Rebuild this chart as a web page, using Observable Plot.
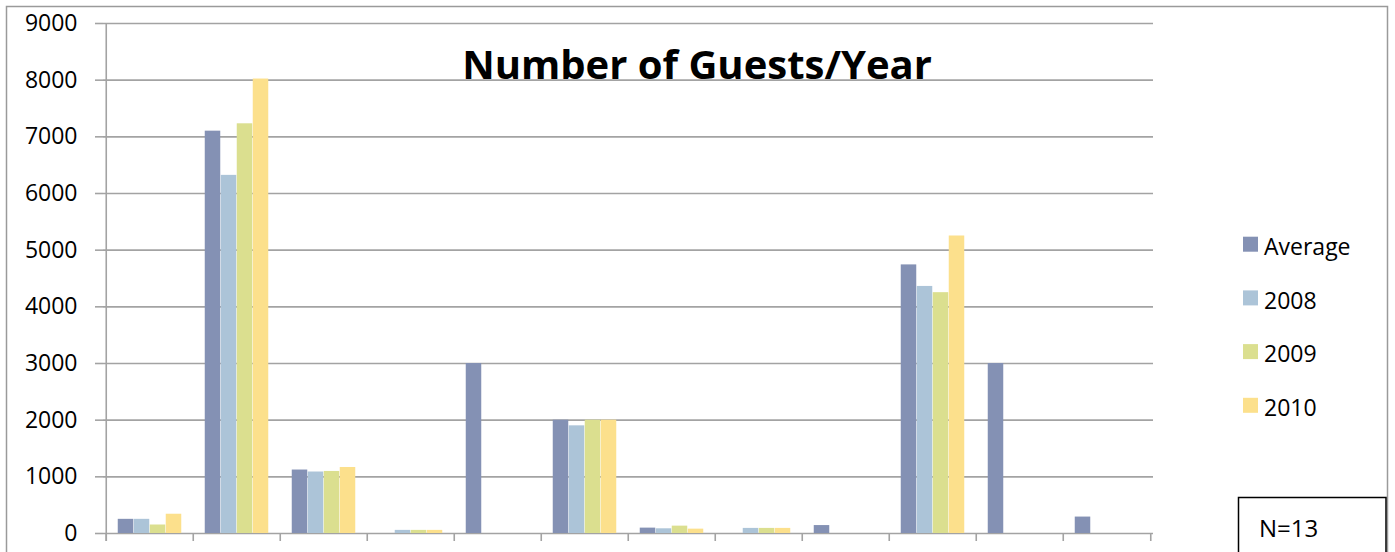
<!DOCTYPE html>
<html>
<head>
<meta charset="utf-8">
<script src="https://cdn.jsdelivr.net/npm/d3@7"></script>
<script src="https://cdn.jsdelivr.net/npm/@observablehq/plot@0.6"></script>
<style>
  html, body { margin: 0; padding: 0; background: #fff; overflow: hidden; }
  #wrap { position: relative; width: 1395px; height: 552px; overflow: hidden; }
  #wrap > svg { position: absolute; left: 0; top: 0; }
</style>
</head>
<body>
<div id="wrap"></div>
<script>
// ---------- data ----------
const categories = ["G1", "G2", "G3", "G4", "G5", "G6", "G7", "G8", "G9", "G10", "G11", "G12"];
const seriesNames = ["Average", "2008", "2009", "2010"];
const average = [250, 7100, 1120, null, 3000, 2000, 95, null, 140, 4740, 3000, 290];
const y2008   = [250, 6320, 1085, 55, null, 1900, 83, 90, null, 4360, null, null];
const y2009   = [150, 7230, 1095, 55, null, 2000, 130, 90, null, 4250, null, null];
const y2010   = [340, 8020, 1165, 55, null, 2000, 77, 90, null, 5250, null, null];
const seriesColors = ["#8491B4", "#ACC4D8", "#DBDF8F", "#FCE08C"];
const yTicks = [0, 1000, 2000, 3000, 4000, 5000, 6000, 7000, 8000, 9000];
const titleText = "Number of Guests/Year";
const noteText = "N=13";

// ---------- table ----------
const seriesValues = [average, y2008, y2009, y2010];
const rows = [];
seriesNames.forEach((s, k) => {
  categories.forEach((c, i) => {
    const v = seriesValues[k][i];
    if (v != null) rows.push({category: c, series: s, value: v});
  });
});

// ---------- layout ----------
const W = 1395, H = 552;
const mL = 103, mR = 242, mT = 23, mB = 19;
const bw = (W - mL - mR) / categories.length;
const barW = 16;
const groupPad = (bw - barW * seriesNames.length) / 2;
const gridColor = "#a3a3a3";
const font = "'Open Sans', sans-serif";

const barMarks = seriesNames.map((s, k) =>
  Plot.barY(rows.filter(r => r.series === s), {
    x: "category",
    y: "value",
    fill: "series",
    insetLeft: groupPad + barW * k,
    insetRight: bw - groupPad - barW * (k + 1)
  })
);

const chart = Plot.plot({
  width: W,
  height: H,
  marginLeft: mL,
  marginRight: mR,
  marginTop: mT,
  marginBottom: mB,
  style: {fontFamily: font, fontSize: "23px", color: "#000", background: "transparent", overflow: "visible"},
  x: {domain: categories, padding: 0, axis: null},
  y: {domain: [0, yTicks[yTicks.length - 1]], axis: null},
  color: {domain: seriesNames, range: seriesColors},
  marks: [
    Plot.gridY(yTicks, {stroke: gridColor, strokeOpacity: 1, strokeWidth: 1.6}),
    Plot.axisY(yTicks, {
      tickSize: 8, tickPadding: 18, stroke: gridColor, strokeWidth: 1.6,
      fill: "#000", fontSize: 23, fontFamily: font, tickFormat: d => String(d), label: null
    }),
    ...barMarks,
    // category boundary ticks below the baseline
    Plot.ruleX(categories, {x: d => d, dx: -bw / 2, y1: 0, y2: 0, insetBottom: -8, stroke: gridColor, strokeWidth: 1.6}),
    Plot.ruleX(categories.slice(-1), {x: d => d, dx: bw / 2, y1: 0, y2: 0, insetBottom: -8, stroke: gridColor, strokeWidth: 1.6}),
    // vertical axis line
    Plot.ruleX(categories.slice(0, 1), {x: d => d, dx: -bw / 2, y1: yTicks[yTicks.length - 1], y2: 0, insetBottom: -8, stroke: gridColor, strokeWidth: 1.6})
  ]
});

const wrap = document.getElementById("wrap");
wrap.appendChild(chart);

// tick labels: enforce size (the only text elements in the Plot svg)
d3.select(chart).selectAll("text")
  .attr("font-size", 23)
  .style("font-size", "23px")
  .style("font-family", font);

// ---------- overlay: chart border, title, legend, note ----------
const ov = d3.select(wrap).append("svg")
  .attr("width", W).attr("height", H)
  .style("font-family", font);

ov.append("rect")
  .attr("x", 6.5).attr("y", 6.5).attr("width", 1381).attr("height", 600)
  .attr("fill", "none").attr("stroke", "#9a9a9a").attr("stroke-width", 1.5);

ov.append("text")
  .attr("x", 697).attr("y", 79)
  .attr("text-anchor", "middle")
  .attr("font-weight", "bold")
  .attr("font-size", 40)
  .attr("fill", "#000")
  .text(titleText);

const legend = ov.append("g");
seriesNames.forEach((s, k) => {
  const yb = 255 + k * 53.7;
  legend.append("rect")
    .attr("x", 1243).attr("y", yb - 18.3).attr("width", 15).attr("height", 15)
    .attr("fill", seriesColors[k]);
  legend.append("text")
    .attr("x", 1264).attr("y", yb)
    .attr("font-size", 23).attr("fill", "#000")
    .text(s);
});

ov.append("rect")
  .attr("x", 1238.5).attr("y", 497.5).attr("width", 147.5).attr("height", 100)
  .attr("fill", "#fff").attr("stroke", "#000").attr("stroke-width", 1.5);
ov.append("text")
  .attr("x", 1259).attr("y", 537)
  .attr("font-size", 24).attr("fill", "#000")
  .text(noteText);
</script>
</body>
</html>
